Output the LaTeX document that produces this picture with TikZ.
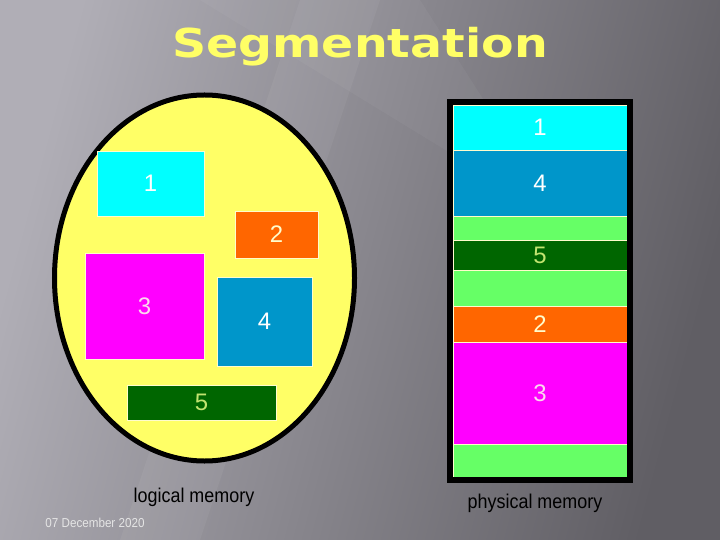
\documentclass[tikz,border=0pt]{standalone}
\usepackage{fontspec}
\setmainfont{Liberation Sans}
\newfontfamily\titlefont{DejaVu Sans Bold}[FakeStretch=1.19]
\newfontfamily\narrowfont{Liberation Sans}[FakeStretch=0.9]
\usepackage{tikz}
\usepackage{xcolor}
\usetikzlibrary{shapes.geometric}
\definecolor{bglight}{RGB}{176,174,182}
\definecolor{bgmid}{RGB}{112,110,117}
\definecolor{bgdark}{RGB}{96,94,100}
\definecolor{titleyellow}{RGB}{255,255,102}

\begin{document}
\begin{tikzpicture}[x=1bp,y=-1bp,
    segbox/.style={draw=white!80!yellow, line width=0.8bp, inner sep=0pt,
        font=\fontsize{24}{28}\selectfont},
    caption/.style={font=\narrowfont\fontsize{20}{24}\selectfont, text=black}]
    % Define colors for segments
    \definecolor{segcyan}{RGB}{0,255,255}
    \definecolor{segorange}{RGB}{255,102,0}
    \definecolor{segmagenta}{RGB}{255,0,255}
    \definecolor{segblue}{RGB}{0,150,202}
    \definecolor{segdkgreen}{RGB}{0,102,0}
    \definecolor{segfree}{RGB}{102,255,102}
    \definecolor{logicalfill}{RGB}{255,255,102}

    % Background
    \useasboundingbox (0,0) rectangle (720,540);
    \shade[left color=bglight, middle color=bgmid, right color=bgdark, shading angle=75]
        (0,0) rectangle (720,540);
    \fill[white, opacity=0.05] (120,540) -- (300,0) -- (380,0) -- (200,540) -- cycle;
    \fill[white, opacity=0.04] (200,0) -- (420,0) -- (560,220) -- cycle;

    % Title
    \node[anchor=base, text=titleyellow, inner sep=0pt, font=\titlefont\fontsize{40}{46}\selectfont]
        (title) at (360,58) {Segmentation};

    % Logical memory (ellipse with segments)
    \node[ellipse, draw=black, line width=5bp, fill=logicalfill,
        minimum width=300bp, minimum height=366bp, inner sep=0pt] (logical) at (204.5,278) {};
    \node[segbox, fill=segcyan, text=white, minimum width=107bp, minimum height=65bp] (l1) at (150.5,183.5) {1};
    \node[segbox, fill=segorange, text=white!80!yellow, minimum width=83bp, minimum height=47bp] (l2) at (276.5,234.5) {2};
    \node[segbox, fill=segmagenta, text=white!85!magenta, minimum width=119bp, minimum height=106bp] (l3) at (144.5,306) {3};
    \node[segbox, fill=segblue, text=white, minimum width=95bp, minimum height=89bp] (l4) at (264.5,321.5) {4};
    \node[segbox, fill=segdkgreen, text=yellow!60!green!60!white, minimum width=149bp, minimum height=35bp] (l5) at (201.5,402.5) {5};

    % Physical memory (stack of segments)
    \node[segbox, fill=segcyan, text=white, minimum width=174bp, minimum height=45bp] (p1) at (540,127.5) {1};
    \node[segbox, fill=segblue, text=white, minimum width=174bp, minimum height=66bp] (p4) at (540,183) {4};
    \node[segbox, fill=segfree, minimum width=174bp, minimum height=24bp] (free1) at (540,228) {};
    \node[segbox, fill=segdkgreen, text=yellow!60!green!60!white, minimum width=174bp, minimum height=30bp] (p5) at (540,255) {5};
    \node[segbox, fill=segfree, minimum width=174bp, minimum height=36bp] (free2) at (540,288) {};
    \node[segbox, fill=segorange, text=white!80!yellow, minimum width=174bp, minimum height=36bp] (p2) at (540,324) {2};
    \node[segbox, fill=segmagenta, text=white!85!magenta, minimum width=174bp, minimum height=102bp] (p3) at (540,393) {3};
    \node[segbox, fill=segfree, minimum width=174bp, minimum height=33bp] (free3) at (540,460.5) {};
    \node[draw=black, line width=6bp, minimum width=180bp, minimum height=378bp, inner sep=0pt] (physical) at (540,291) {};

    % Captions
    \node[caption] (logcap) at (194,497) {logical memory};
    \node[caption] (phycap) at (535,503) {physical memory};
    \node[text=white!80!gray, font=\narrowfont\fontsize{13}{15}\selectfont] (date) at (95,523) {07 December 2020};

\end{tikzpicture}
\end{document}
